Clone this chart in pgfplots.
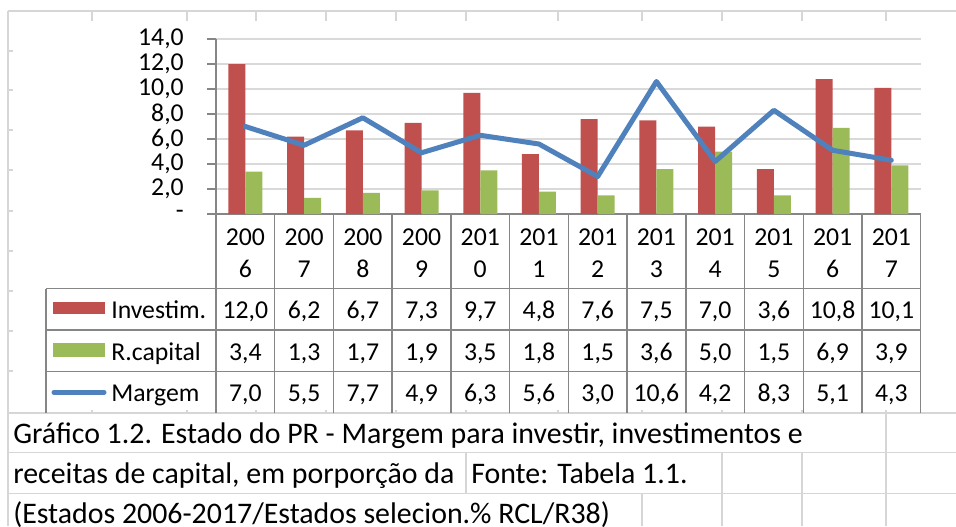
\documentclass[border=0pt]{standalone}
\usepackage{fontspec}
\setmainfont{Carlito}
\usepackage{pgfplots}
\usepackage{pgfplotstable}
\pgfplotsset{compat=1.18}
\definecolor{invRed}{HTML}{C0504D}
\definecolor{capGreen}{HTML}{9BBB59}
\definecolor{margBlue}{HTML}{4F81BD}
\definecolor{axisGray}{HTML}{868686}
\definecolor{gridGray}{HTML}{D9D9D9}
\definecolor{sheetGray}{HTML}{D6D6D6}
\newcommand\tabfont{\fontsize{19.3pt}{22pt}\selectfont}
\newcommand\capfont{\fontsize{22.4pt}{26pt}\selectfont}

% ano (0 = 2006), investimentos, receitas de capital, margem
\pgfplotstableread{
yr inv cap marg
0  12.0 3.4 7.0
1  6.2  1.3 5.5
2  6.7  1.7 7.7
3  7.3  1.9 4.9
4  9.7  3.5 6.3
5  4.8  1.8 5.6
6  7.6  1.5 3.0
7  7.5  3.6 10.6
8  7.0  5.0 4.2
9  3.6  1.5 8.3
10 10.8 6.9 5.1
11 10.1 3.9 4.3
}\prdata

\begin{document}
\begin{tikzpicture}[x=0.75pt,y=-0.75pt]
\useasboundingbox (0,0) rectangle (956,526);
\clip (0,0) rectangle (956,526);

% planilha por tras
\begin{scope}[draw=sheetGray, line width=1.2pt]
  \draw (8,11) -- (956,11);
  \draw (8,11) -- (8,526);
  \foreach \xx in {92,187,256,326,396,466,558,642,722,802,886} {
    \draw (\xx,11) -- (\xx,21);
    \draw (\xx,410) -- (\xx,413);
  }
  \foreach \yy in {51,90,130,170,211,251,291,331,371} \draw (8,\yy) -- (13,\yy);
  \draw (8,413) -- (956,413);
  \draw (8,452.3) -- (956,452.3);
  \draw (8,493.3) -- (956,493.3);
  \draw (886,413) -- (886,526);
  \draw (802,452.3) -- (802,526);
  \draw (722,452.3) -- (722,526);
  \draw (466,452.3) -- (466,493.3);
  \draw (642,493.3) -- (642,526);
\end{scope}

\begin{axis}[
  at={(162pt,-160.5pt)}, anchor=south west,
  scale only axis, width=528.5pt, height=131.25pt,
  xmin=-0.5, xmax=11.5, ymin=0, ymax=14,
  axis lines=left,
  axis line style={-, draw=axisGray, line width=1.1pt},
  xtick=\empty,
  ytick={0,2,...,14},
  yticklabels={{-\hspace{8.25pt}},{2,0},{4,0},{6,0},{8,0},{10,0},{12,0},{14,0}},
  ymajorgrids, major grid style={draw=gridGray, line width=1.1pt},
  tick align=outside, major tick length=6.75pt,
  ytick style={draw=axisGray, line width=1.1pt},
  yticklabel style={font=\tabfont, inner sep=0pt, xshift=-17.25pt},
  clip=false,
]
\addplot[ybar, bar width=12.75pt, bar shift=-6.375pt, fill=invRed, draw=none]
  table[x=yr, y=inv] {\prdata};
\addplot[ybar, bar width=12.75pt, bar shift=6.375pt, fill=capGreen, draw=none]
  table[x=yr, y=cap] {\prdata};
\addplot[draw=margBlue, line width=3.75pt, line join=round, line cap=round, mark=none]
  table[x=yr, y=marg] {\prdata};
\end{axis}

% tabela de dados do grafico
\begin{scope}[draw=axisGray, line width=1.1pt]
  \foreach \k in {0,...,12} \draw ({216+58.725*\k},214) -- ({216+58.725*\k},413);
  \draw (46,288.7) -- (920.7,288.7);
  \draw (46,330) -- (920.7,330);
  \draw (46,371.7) -- (920.7,371.7);
  \draw (46,288.7) -- (46,413);
\end{scope}

\foreach \k/\a/\b in {0/200/6,1/200/7,2/200/8,3/200/9,4/201/0,5/201/1,6/201/2,7/201/3,8/201/4,9/201/5,10/201/6,11/201/7} {
  \node[anchor=base, inner sep=0pt, font=\tabfont] at ({216+58.725*(\k+0.5)},245) {\a};
  \node[anchor=base, inner sep=0pt, font=\tabfont] at ({216+58.725*(\k+0.5)},277) {\b};
}
\foreach \k/\i/\r/\m in {0/{12,0}/{3,4}/{7,0},1/{6,2}/{1,3}/{5,5},2/{6,7}/{1,7}/{7,7},3/{7,3}/{1,9}/{4,9},
  4/{9,7}/{3,5}/{6,3},5/{4,8}/{1,8}/{5,6},6/{7,6}/{1,5}/{3,0},7/{7,5}/{3,6}/{10,6},
  8/{7,0}/{5,0}/{4,2},9/{3,6}/{1,5}/{8,3},10/{10,8}/{6,9}/{5,1},11/{10,1}/{3,9}/{4,3}} {
  \node[anchor=base, inner sep=0pt, font=\tabfont] at ({216+58.725*(\k+0.5)},318.5) {\i};
  \node[anchor=base, inner sep=0pt, font=\tabfont] at ({216+58.725*(\k+0.5)},360) {\r};
  \node[anchor=base, inner sep=0pt, font=\tabfont] at ({216+58.725*(\k+0.5)},401.7) {\m};
}

% chaves da legenda
\fill[invRed] (53,301.7) rectangle (105,314.3);
\fill[capGreen] (53,343) rectangle (105,356.7);
\draw[margBlue, line width=3.75pt, line cap=round] (54,392.3) -- (104,392.3);
\node[anchor=base west, inner sep=0pt, font=\tabfont] at (111,318.5) {Investim.};
\node[anchor=base west, inner sep=0pt, font=\tabfont] at (111,360) {R.capital};
\node[anchor=base west, inner sep=0pt, font=\tabfont] at (111,401.7) {Margem};

% texto das celulas
\node[anchor=base west, inner sep=0pt, font=\capfont] at (13,443) {Gráfico 1.2. Estado do PR - Margem para investir, investimentos e};
\node[anchor=base west, inner sep=0pt, font=\capfont] at (13,483) {receitas de capital, em porporção da};
\node[anchor=base west, inner sep=0pt, font=\capfont] at (471,483) {Fonte: Tabela 1.1.};
\node[anchor=base west, inner sep=0pt, font=\capfont] at (13,523) {(Estados 2006-2017/Estados selecion.\% RCL/R38)};
\end{tikzpicture}
\end{document}
